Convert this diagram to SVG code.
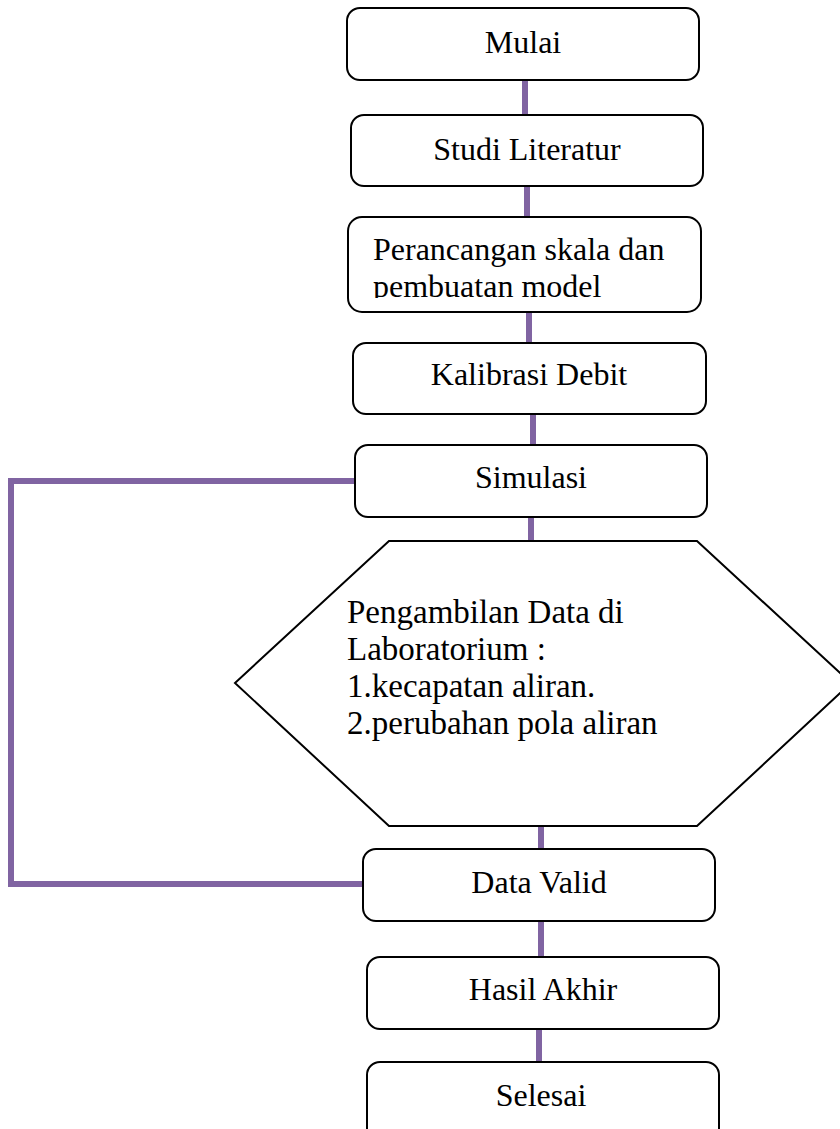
<svg xmlns="http://www.w3.org/2000/svg" width="840" height="1129" viewBox="0 0 840 1129">
<style>
.box{fill:#fff;stroke:#000;stroke-width:2}
.t{font-family:"Liberation Serif","Times New Roman",serif;font-size:32px;fill:#000}
.h{font-size:33px}
.c{text-anchor:middle}
.con{stroke:#8064A2;stroke-width:6;fill:none;stroke-linecap:butt}
</style>
<defs>
<clipPath id="clipP"><rect x="349" y="218" width="351" height="80"/></clipPath>
</defs>
<rect width="840" height="1129" fill="#fff"/>
<g id="connectors">
<line class="con" x1="525" y1="80" x2="525" y2="115"/>
<line class="con" x1="527" y1="186" x2="527" y2="217"/>
<line class="con" x1="529" y1="312" x2="529" y2="343"/>
<line class="con" x1="533" y1="414" x2="533" y2="445"/>
<line class="con" x1="531" y1="517" x2="531" y2="541"/>
<line class="con" x1="541" y1="826" x2="541" y2="849"/>
<line class="con" x1="541" y1="921" x2="541" y2="957"/>
<line class="con" x1="539" y1="1029" x2="539" y2="1062"/>
<polyline class="con" points="355,481 11,481 11,884 363,884"/>
</g>
<g id="mulai">
<rect class="box" x="347" y="8" width="352" height="72" rx="13"/>
<text class="t c" x="523" y="53">Mulai</text>
</g>
<g id="studi">
<rect class="box" x="351" y="115" width="352" height="71" rx="13"/>
<text class="t c" x="527" y="160">Studi Literatur</text>
</g>
<g id="perancangan">
<rect class="box" x="348" y="217" width="353" height="95" rx="14"/>
<g clip-path="url(#clipP)">
<text class="t" x="373" y="260">Perancangan skala dan</text>
<text class="t" x="373" y="297">pembuatan model</text>
</g>
</g>
<g id="kalibrasi">
<rect class="box" x="353" y="343" width="353" height="71" rx="13"/>
<text class="t c" x="529" y="385">Kalibrasi Debit</text>
</g>
<g id="simulasi">
<rect class="box" x="355" y="445" width="352" height="72" rx="13"/>
<text class="t c" x="531" y="488">Simulasi</text>
</g>
<g id="pengambilan">
<polygon class="box" points="389,541 697,541 851,683 697,826 389,826 235,683"/>
<text class="t h" x="347" y="623">Pengambilan Data di</text>
<text class="t h" x="347" y="660">Laboratorium :</text>
<text class="t h" x="347" y="697">1.kecapatan aliran.</text>
<text class="t h" x="347" y="734">2.perubahan pola aliran</text>
</g>
<g id="datavalid">
<rect class="box" x="363" y="849" width="352" height="72" rx="13"/>
<text class="t c" x="539" y="893">Data Valid</text>
</g>
<g id="hasil">
<rect class="box" x="367" y="957" width="352" height="72" rx="13"/>
<text class="t c" x="543" y="1000">Hasil Akhir</text>
</g>
<g id="selesai">
<rect class="box" x="367" y="1062" width="352" height="80" rx="13"/>
<text class="t c" x="541" y="1106">Selesai</text>
</g>
</svg>
